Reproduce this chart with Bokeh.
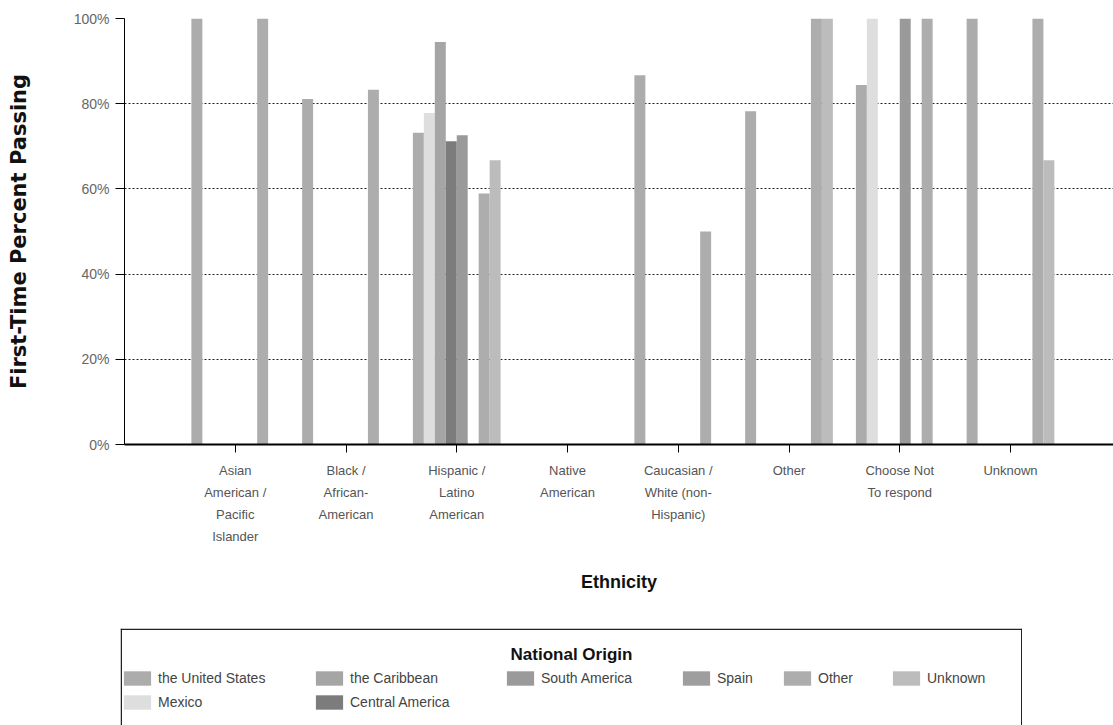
from bokeh.plotting import figure
from bokeh.models import (ColumnDataSource, Range1d, FixedTicker, PrintfTickFormatter,
                          Legend, LegendItem, Label, Span, Spacer)
from bokeh.layouts import column, row
from bokeh.transform import dodge
from bokeh.embed import file_html
from bokeh.resources import INLINE

nan = float("nan")

# ---- data -------------------------------------------------------------
ethnicities = [
    "Asian\nAmerican /\nPacific\nIslander",
    "Black /\nAfrican-\nAmerican",
    "Hispanic /\nLatino\nAmerican",
    "Native\nAmerican",
    "Caucasian /\nWhite (non-\nHispanic)",
    "Other",
    "Choose Not\nTo respond",
    "Unknown",
]
origins = ["the United States", "Mexico", "the Caribbean", "Central America",
           "South America", "Spain", "Other", "Unknown"]

united_states   = [100.0, 81.1, 73.2, nan, 86.7, 78.2, 84.4, 100.0]
mexico          = [nan, nan, 77.8, nan, nan, nan, 100.0, nan]
caribbean       = [nan, nan, 94.5, nan, nan, nan, nan, nan]
central_america = [nan, nan, 71.2, nan, nan, nan, nan, nan]
south_america   = [nan, nan, 72.6, nan, nan, nan, 100.0, nan]
spain           = [nan, nan, nan, nan, nan, nan, nan, nan]
other           = [100.0, 83.3, 58.9, nan, 50.0, 100.0, 100.0, 100.0]
unknown         = [nan, nan, 66.7, nan, nan, 100.0, nan, 66.7]

y_ticks = [0, 20, 40, 60, 80, 100]

# legend columns as laid out in the reference
legend_columns = [["the United States", "Mexico"], ["the Caribbean", "Central America"],
                  ["South America"], ["Spain"], ["Other"], ["Unknown"]]

# ---- styles -----------------------------------------------------------
colors = {
    "the United States": "#acacac",
    "Mexico": "#dedede",
    "the Caribbean": "#a5a5a5",
    "Central America": "#7c7c7c",
    "South America": "#9a9a9a",
    "Spain": "#9e9e9e",
    "Other": "#adadad",
    "Unknown": "#bcbcbc",
}
FONT = "Liberation Sans"
keys = ["us", "mx", "cb", "ca", "sa", "sp", "ot", "un"]
series = [united_states, mexico, caribbean, central_america, south_america, spain, other, unknown]

pos = list(range(1, len(ethnicities) + 1))
data = dict(pos=pos)
for k, s in zip(keys, series):
    data[k] = s
src = ColumnDataSource(data)

W, H1 = 1113, 628
FL, FT, FH = 124, 18, 426          # frame left / top / height
p = figure(width=W, height=H1, x_range=Range1d(0, 8.93), y_range=Range1d(0, 100),
           output_backend="svg", toolbar_location=None,
           min_border_left=FL, min_border_right=0, min_border_top=FT,
           min_border_bottom=H1 - FT - FH)
p.outline_line_color = None
p.background_fill_color = "white"
p.border_fill_color = "white"

bw = 0.099
for i, (k, name) in enumerate(zip(keys, origins)):
    p.vbar(x=dodge("pos", (i - 3.5) * bw, range=p.x_range), top=k, width=bw,
           bottom=0, source=src, fill_color=colors[name], line_color=None)

# grid
p.xgrid.visible = False
p.ygrid.ticker = FixedTicker(ticks=y_ticks)
p.ygrid.grid_line_color = "#222222"
p.ygrid.grid_line_dash = "2 2"
p.ygrid.grid_line_width = 1

# x axis
xa = p.xaxis[0]
xa.ticker = FixedTicker(ticks=pos)
xa.major_label_overrides = {i: lab for i, lab in zip(pos, ethnicities)}
xa.major_tick_out = 8
xa.major_tick_in = 0
xa.minor_tick_out = 0
xa.minor_tick_in = 0
xa.axis_line_width = 2
xa.axis_line_color = "black"
xa.major_tick_line_color = "black"
xa.major_label_standoff = 10
xa.major_label_text_font = FONT
xa.major_label_text_font_size = "13px"
xa.major_label_text_color = "#555555"
xa.major_label_text_line_height = 1.48
xa.axis_label = "Ethnicity"
xa.axis_label_standoff = 25
xa.axis_label_text_font = FONT
xa.axis_label_text_font_style = "bold"
xa.axis_label_text_font_size = "18px"
xa.axis_label_text_color = "#111111"

# y axis
ya = p.yaxis[0]
ya.ticker = FixedTicker(ticks=y_ticks)
ya.formatter = PrintfTickFormatter(format="%d%%")
ya.major_tick_out = 9
ya.major_tick_in = 0
ya.minor_tick_out = 0
ya.minor_tick_in = 0
ya.axis_line_color = "black"
ya.major_tick_line_color = "black"
ya.major_label_standoff = 6
ya.major_label_text_font = FONT
ya.major_label_text_font_size = "14px"
ya.major_label_text_color = "#666666"
ya.axis_label = "First-Time Percent Passing"
ya.axis_label_standoff = 40
ya.axis_label_text_font = "DejaVu Sans"
ya.axis_label_text_font_style = "bold"
ya.axis_label_text_font_size = "21px"
ya.axis_label_text_color = "#111111"

# ---- legend box (second figure below the chart) ------------------------
BOX_L, BOX_R, BOX_T = 120, 1022, H1      # page coords
LW, LH = BOX_R - BOX_L, 725 - H1
lf = figure(width=LW, height=LH, x_range=Range1d(0, LW), y_range=Range1d(0, LH),
            output_backend="svg", toolbar_location=None, min_border=0,
            x_axis_location=None, y_axis_location=None)
lf.outline_line_color = None
lf.grid.visible = False
lf.background_fill_color = "white"
lf.border_fill_color = "white"

# legend proxies: same data, not drawn (only their swatches appear in the legend)
lrend = {}
for k, name in zip(keys, origins):
    lrend[name] = lf.vbar(x="pos", top=k, width=0.5, source=src, visible=False,
                          fill_color=colors[name], line_color=None)

for loc, dim in [(0.75, "height"), (LW - 0.75, "height"), (LH - 0.75, "width")]:
    lf.add_layout(Span(location=loc, dimension=dim, line_color="#222222", line_width=1.5))

def lx(page_x):
    return page_x - BOX_L

def ly(page_y):
    return 725 - page_y

lf.add_layout(Label(x=lx(571), y=ly(654), text="National Origin", text_align="center",
                    text_baseline="middle", text_font=FONT, text_font_style="bold",
                    text_font_size="17px", text_color="#111111"))

text_left = [158, 350, 541, 717, 818, 927]   # page x of legend labels
GW, GH, SP, STAND = 34, 18, 6, 4
ROW1_TOP = 678 - GH / 2
for names, tl in zip(legend_columns, text_left):
    n = len(names)
    h = n * GH + (n - 1) * SP
    leg = Legend(items=[LegendItem(label=nm, renderers=[lrend[nm]]) for nm in names],
                 location=(lx(tl - GW - STAND), ly(ROW1_TOP + h)), orientation="vertical",
                 glyph_width=GW, glyph_height=GH, label_height=GH, spacing=SP,
                 padding=0, margin=0, border_line_color=None, background_fill_alpha=0,
                 label_standoff=STAND, label_text_font=FONT, label_text_font_size="14px",
                 label_text_color="#444444", click_policy="none",
                 inactive_fill_alpha=0)
    lf.add_layout(leg)

layout = column(p, row(Spacer(width=BOX_L, height=LH), lf))

open("out.html", "w").write(file_html(layout, INLINE))
